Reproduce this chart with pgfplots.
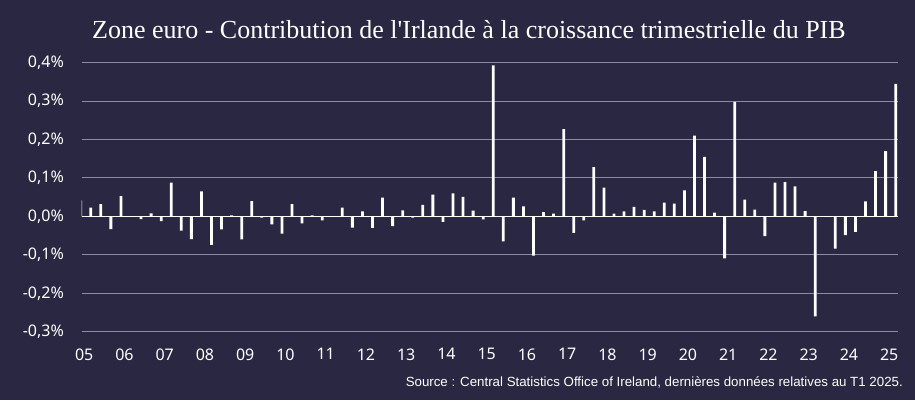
\documentclass[border=0pt]{standalone}
\usepackage{fontspec}
\setmainfont{Liberation Sans}
\newfontfamily\titlefont{Liberation Serif}
\newfontfamily\tickfont{Noto Sans}
\usepackage{pgfplots}
\usepackage{pgfplotstable}
\pgfplotsset{compat=1.18}

\definecolor{bg}{RGB}{41,39,66}
\definecolor{gridc}{RGB}{140,139,160}

% Contribution de l'Irlande (points de %), un trimestre par ligne
\pgfplotstableread{
q v
0 0.042
1 0.023
2 0.032
3 -0.033
4 0.053
5 0.001
6 -0.007
7 0.008
8 -0.012
9 0.088
10 -0.037
11 -0.059
12 0.065
13 -0.074
14 -0.034
15 0.003
16 -0.060
17 0.040
18 -0.003
19 -0.021
20 -0.045
21 0.032
22 -0.018
23 0.003
24 -0.010
25 0.000
26 0.023
27 -0.029
28 0.013
29 -0.030
30 0.049
31 -0.025
32 0.016
33 -0.003
34 0.030
35 0.057
36 -0.014
37 0.060
38 0.051
39 0.015
40 -0.008
41 0.393
42 -0.065
43 0.049
44 0.026
45 -0.102
46 0.011
47 0.007
48 0.227
49 -0.043
50 -0.010
51 0.128
52 0.075
53 0.007
54 0.013
55 0.025
56 0.017
57 0.013
58 0.036
59 0.033
60 0.068
61 0.210
62 0.155
63 0.010
64 -0.109
65 0.298
66 0.044
67 0.018
68 -0.051
69 0.088
70 0.089
71 0.078
72 0.014
73 -0.260
74 0.000
75 -0.084
76 -0.049
77 -0.040
78 0.039
79 0.118
80 0.170
81 0.345
}\irlande

\begin{document}
\begin{tikzpicture}[x=1pt,y=1pt]
\fill[bg] (0,0) rectangle (915,400);
\node[anchor=base west, text=white, inner sep=0pt,
      font=\titlefont\fontsize{26}{26}\selectfont]
  at (92,361.5) {Zone euro - Contribution de l'Irlande à la croissance trimestrielle du PIB};
\node[anchor=base east, text=white, inner sep=0pt, font=\fontsize{13.3}{13.3}\selectfont]
  at (903,13.5) {Source : Central Statistics Office of Ireland, dernières données relatives au T1 2025.};
\begin{axis}[
  at={(81.7pt,68.3pt)}, anchor=south west,
  scale only axis, width=816pt, height=269pt,
  xmin=0.1, xmax=81.2, ymin=-0.3, ymax=0.4,
  axis line style={draw=none},
  major tick length=0pt,
  ytick={-0.3,-0.2,-0.1,0,0.1,0.2,0.3,0.4},
  yticklabels={{-0,3\%},{-0,2\%},{-0,1\%},{0,0\%},{0,1\%},{0,2\%},{0,3\%},{0,4\%}},
  xtick={0.35,4.35,8.35,12.35,16.35,20.35,24.35,28.35,32.35,36.35,40.35,44.35,48.35,52.35,56.35,60.35,64.35,68.35,72.35,76.35,80.35},
  xticklabels={05,06,07,08,09,10,11,12,13,14,15,16,17,18,19,20,21,22,23,24,25},
  tick label style={font=\tickfont\fontsize{16}{16}\selectfont, text=white},
  yticklabel style={inner sep=0pt, anchor=east, xshift=-17.7pt},
  xticklabel style={inner sep=0pt, anchor=north, yshift=-16.6pt},
  ymajorgrids, grid style={gridc, line width=1pt},
  extra y ticks={0}, extra y tick labels={},
  extra y tick style={grid style={white, line width=1.6pt}},
  ybar, bar width=2.8pt,
]
\addplot[fill=white, draw=none] table[x=q, y=v] {\irlande};
\end{axis}
\end{tikzpicture}
\end{document}
